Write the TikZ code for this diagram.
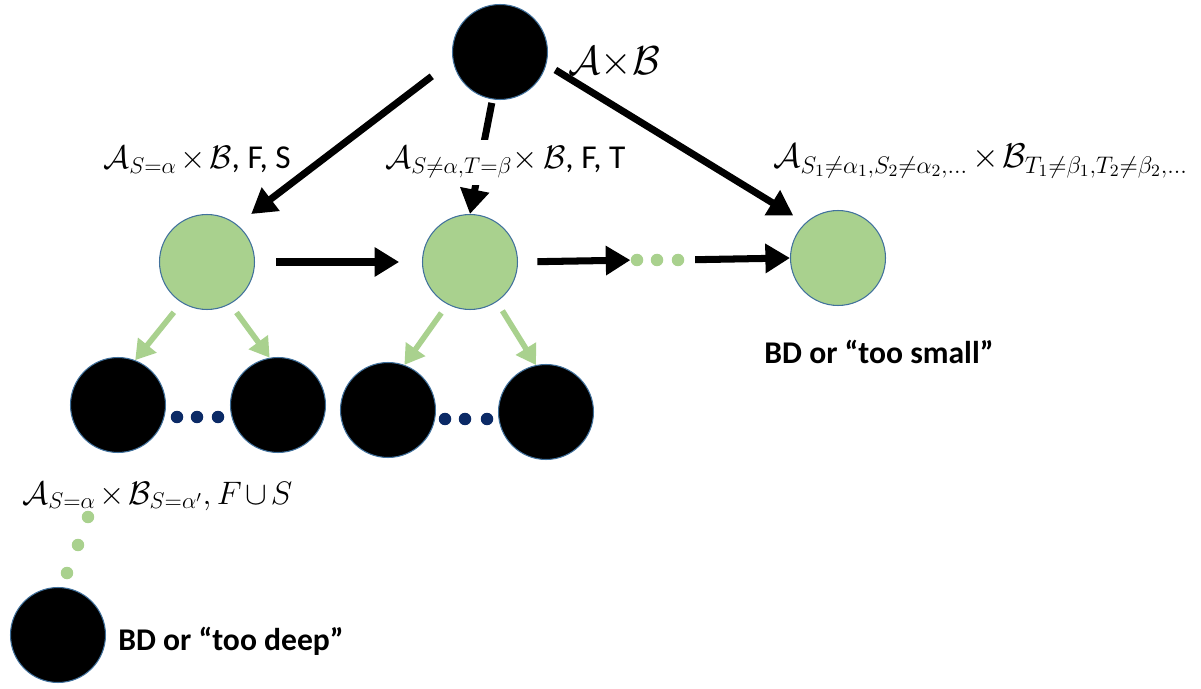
\RequirePackage{fix-cm}
\documentclass[tikz,border=0pt]{standalone}
\usepackage{amsmath}
\usepackage{fontspec}
\setmainfont{Carlito}
\usetikzlibrary{arrows.meta}
\definecolor{leaf}{HTML}{A9D18E}
\definecolor{rim}{HTML}{41719C}
\definecolor{navy}{HTML}{0B2A66}
\newcommand{\bigmath}[2][18.5]{{\fontsize{#1}{22}\selectfont\medmuskip=2mu\relax$#2$}}

\begin{document}
\begin{tikzpicture}[x=0.02cm,y=-0.02cm,
    blob/.style={circle,draw=rim,line width=0.6pt,fill=black,minimum size=1.9cm,inner sep=0pt},
    bud/.style={blob,fill=leaf},
    bead/.style={circle,fill=#1,minimum size=0.25cm,inner sep=0pt},
    bigarrow/.style={-{Triangle[length=14pt,width=16pt]},line width=4pt},
    greenarrow/.style={-{Triangle[length=11pt,width=13pt]},line width=3.2pt,draw=leaf,fill=leaf},
    lbl/.style={font=\fontsize{19}{22}\selectfont,inner sep=0pt},
    note/.style={font=\fontsize{18}{22}\selectfont\bfseries,inner sep=0pt}]
    \useasboundingbox (0,0) rectangle (1201,689);

    \node[blob] (root) at (500,52) {};
    \node[bud] (g1) at (207,262) {};
    \node[bud] (g2) at (470,262) {};
    \node[bud] (g3) at (838,258) {};
    \node[blob] (b1) at (118,405) {};
    \node[blob] (b2) at (278,405) {};
    \node[blob] (b3) at (388,410) {};
    \node[blob] (b4) at (546,412) {};
    \node[blob] (deep) at (58,635) {};

    \foreach \x [count=\i] in {637,657,678} \node[bead=leaf] (m\i) at (\x,260) {};
    \foreach \x [count=\i] in {177,197,218} \node[bead=navy] (p\i) at (\x,417) {};
    \foreach \x [count=\i] in {445,465,487} \node[bead=navy] (q\i) at (\x,419) {};

    \draw[bigarrow, shorten <=15pt, shorten >=10pt] (root.190) -- (g1.51);
    \draw[bigarrow, shorten <=2pt] (root.261) -- (g2.north);
    \draw[bigarrow, shorten <=6pt, shorten >=8pt] (root.345) -- (g3.133);
    \draw[bigarrow, shorten <=12pt, shorten >=13pt] (g1.east) -- (g2.west);
    \draw[bigarrow, shorten <=11pt] (g2.east) -- (m1);
    \draw[bigarrow, shorten <=6pt] (m3) -- (g3.west);

    \draw[greenarrow, shorten <=7pt] (g1.238) -- (b1.69);
    \draw[greenarrow, shorten <=6pt] (g1.299) -- (b2.100);
    \draw[greenarrow, shorten <=6pt] (g2.242) -- (b3.70);
    \draw[greenarrow, shorten <=6pt] (g2.304) -- (b4.102);

    \node[font=\fontsize{23}{26}\selectfont, anchor=west, inner sep=0pt] (prod) at (568,62) {$\mathcal{A}{\times}\mathcal{B}$};
    \node[lbl, anchor=base west] (lab1) at (103,169) {\bigmath{\mathcal{A}_{S=\alpha}\times\mathcal{B}}, F, S};
    \node[lbl, anchor=base west, fill=white, inner ysep=4pt] (lab2) at (385,169) {\bigmath{\mathcal{A}_{S\neq\alpha,T=\beta}{\times}\,\mathcal{B}}, F, T};
    \node[lbl, anchor=base west] (lab3) at (773,168) {\bigmath[19.5]{\mathcal{A}_{S_1\neq\alpha_1,S_2\neq\alpha_2,\ldots}\times\mathcal{B}_{T_1\neq\beta_1,T_2\neq\beta_2,\ldots}}};
    \node[lbl, anchor=base west] (lab4) at (22,504) {\bigmath{\mathcal{A}_{S=\alpha}\times\mathcal{B}_{S=\alpha'},F\cup S}};
    \node[note] (small) at (879,352) {BD or “too small”};
    \node[note, anchor=west] (deepnote) at (118,641) {BD or “too deep”};

    \foreach \x/\y [count=\i] in {88/517,78/545,67/573} \node[bead=leaf] (v\i) at (\x,\y) {};
\end{tikzpicture}
\end{document}
